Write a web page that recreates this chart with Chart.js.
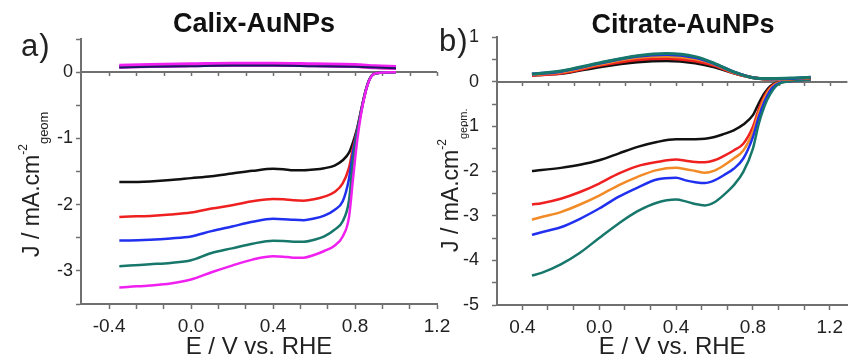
<!DOCTYPE html>
<html><head><meta charset="utf-8">
<script src="https://cdn.jsdelivr.net/npm/chart.js@4.4.1/dist/chart.umd.min.js"></script>
<style>
html,body{margin:0;padding:0;background:#fff;width:849px;height:360px;overflow:hidden;font-family:"Liberation Sans",Arial,sans-serif;}
#wrap{position:relative;width:849px;height:360px;}
canvas{position:absolute;top:0;}
.t{position:absolute;white-space:nowrap;color:#111;line-height:1;}
.yt{transform-origin:left top;transform:rotate(-90deg);font-size:23px;color:#222;}
.yt span{line-height:0;}
</style></head><body>
<div id="wrap">
<canvas id="ca" width="470" height="360" style="left:0;width:470px;height:360px"></canvas>
<canvas id="cb" width="419" height="360" style="left:430px;width:419px;height:360px"></canvas>
<div class="t" style="left:254px;top:10px;transform:translateX(-50%);font-weight:bold;font-size:27px;">Calix-AuNPs</div>
<div class="t" style="left:683px;top:11px;transform:translateX(-50%);font-weight:bold;font-size:27px;">Citrate-AuNPs</div>
<div class="t" style="left:21px;top:30px;font-size:31px;letter-spacing:1px;color:#222;">a)</div>
<div class="t" style="left:439px;top:25px;font-size:31px;letter-spacing:1px;color:#222;">b)</div>
<div class="t yt" style="left:20px;top:257px;">J / mA.cm<span style="font-size:12px;vertical-align:12px;">-2</span><span style="font-size:13px;vertical-align:-9px;">geom</span></div>
<div class="t yt" style="left:439px;top:252px;">J / mA.cm<span style="font-size:12px;vertical-align:12px;">-2</span><span style="font-size:11px;vertical-align:-9px;">geom.</span></div>
</div>
<script>
// ---------- Data ----------
// Panel a) Calix-AuNPs : disk currents
const potentialA = [-0.35,-0.3,-0.2,-0.1,0.0,0.1,0.2,0.3,0.4,0.45,0.5,0.55,0.6,0.65,0.7,0.74,0.77,0.79,0.81,0.83,0.85,0.87,0.89,0.92,1.0];
const diskA_black   = [-1.66,-1.66,-1.65,-1.63,-1.60,-1.57,-1.53,-1.49,-1.46,-1.465,-1.48,-1.48,-1.47,-1.45,-1.41,-1.33,-1.22,-1.06,-0.85,-0.57,-0.30,-0.11,-0.03,-0.01,0.0];
const diskA_red     = [-2.185,-2.18,-2.17,-2.15,-2.12,-2.06,-2.01,-1.95,-1.915,-1.92,-1.935,-1.94,-1.92,-1.88,-1.81,-1.68,-1.45,-1.15,-0.88,-0.58,-0.30,-0.11,-0.03,-0.01,0.0];
const diskA_blue    = [-2.54,-2.54,-2.53,-2.51,-2.48,-2.40,-2.33,-2.26,-2.215,-2.22,-2.23,-2.235,-2.21,-2.165,-2.08,-1.95,-1.62,-1.22,-0.90,-0.59,-0.31,-0.11,-0.03,-0.01,0.0];
const diskA_teal    = [-2.93,-2.92,-2.90,-2.88,-2.84,-2.73,-2.66,-2.59,-2.545,-2.55,-2.56,-2.56,-2.53,-2.48,-2.38,-2.25,-1.95,-1.35,-0.93,-0.60,-0.31,-0.11,-0.03,-0.01,0.0];
const diskA_magenta = [-3.25,-3.24,-3.22,-3.19,-3.13,-3.02,-2.92,-2.83,-2.78,-2.785,-2.80,-2.80,-2.76,-2.70,-2.62,-2.48,-2.20,-1.62,-1.05,-0.62,-0.32,-0.12,-0.03,-0.01,0.0];
// Panel a) ring currents
const potentialRingA = [-0.35,-0.2,0.0,0.2,0.4,0.6,0.8,0.9,1.0];
const ringA_black   = [0.07,0.08,0.09,0.10,0.10,0.09,0.08,0.07,0.06];
const ringA_red     = [0.08,0.09,0.10,0.11,0.11,0.10,0.09,0.07,0.06];
const ringA_blue    = [0.08,0.09,0.10,0.11,0.11,0.10,0.09,0.08,0.07];
const ringA_teal    = [0.09,0.10,0.11,0.12,0.12,0.11,0.10,0.08,0.07];
const ringA_magenta = [0.09,0.10,0.11,0.12,0.12,0.11,0.10,0.08,0.07];

// Panel b) Citrate-AuNPs : disk currents
const potentialB = [-0.35,-0.3,-0.2,-0.1,0.0,0.1,0.2,0.3,0.4,0.45,0.5,0.55,0.6,0.65,0.7,0.75,0.8,0.83,0.86,0.89,0.92,0.95,1.0,1.05,1.1];
const diskB_black  = [-2.0,-1.98,-1.93,-1.86,-1.76,-1.61,-1.46,-1.35,-1.29,-1.29,-1.29,-1.28,-1.24,-1.17,-1.09,-0.96,-0.75,-0.49,-0.26,-0.10,-0.03,0.0,0.03,0.05,0.06];
const diskB_red    = [-2.75,-2.72,-2.62,-2.47,-2.28,-2.06,-1.89,-1.80,-1.745,-1.77,-1.80,-1.805,-1.76,-1.66,-1.54,-1.39,-1.01,-0.62,-0.32,-0.13,-0.04,-0.01,0.01,0.03,0.05];
const diskB_orange = [-3.09,-3.03,-2.92,-2.75,-2.55,-2.32,-2.13,-1.98,-1.93,-1.96,-2.0,-2.04,-1.99,-1.87,-1.72,-1.54,-1.12,-0.70,-0.37,-0.16,-0.05,-0.01,0.01,0.03,0.05];
const diskB_blue   = [-3.43,-3.37,-3.26,-3.07,-2.84,-2.58,-2.37,-2.19,-2.15,-2.21,-2.25,-2.27,-2.21,-2.09,-1.95,-1.72,-1.24,-0.80,-0.45,-0.20,-0.07,-0.01,0.01,0.03,0.05];
const diskB_teal   = [-4.34,-4.28,-4.09,-3.83,-3.50,-3.18,-2.90,-2.71,-2.64,-2.68,-2.74,-2.77,-2.70,-2.53,-2.32,-2.02,-1.50,-0.95,-0.55,-0.28,-0.10,-0.02,0.01,0.03,0.05];
// Panel b) ring currents
const potentialRingB = [-0.35,-0.2,0.0,0.2,0.35,0.5,0.6,0.7,0.8,0.9,1.0,1.1];
const ringB_black  = [0.15,0.18,0.33,0.44,0.47,0.42,0.33,0.19,0.09,0.05,0.06,0.09];
const ringB_red    = [0.14,0.19,0.36,0.49,0.52,0.46,0.36,0.20,0.09,0.05,0.06,0.09];
const ringB_orange = [0.16,0.21,0.39,0.54,0.57,0.51,0.39,0.21,0.09,0.05,0.06,0.09];
const ringB_blue   = [0.17,0.23,0.41,0.57,0.61,0.54,0.40,0.22,0.09,0.06,0.07,0.10];
const ringB_teal   = [0.17,0.24,0.42,0.58,0.63,0.56,0.41,0.22,0.09,0.07,0.08,0.10];

// Tick labels
const xMajorTicks   = [-0.4, 0.0, 0.4, 0.8, 1.2];
const xTickLabelsA  = ['-0.4','0.0','0.4','0.8','1.2'];
const xTickLabelsB  = ['0.4','0.0','0.4','0.8','1.2'];
const yMajorTicksA  = [0, -1, -2, -3];
const yTickLabelsA  = ['0','-1','-2','-3'];
const yMajorTicksB  = [1, 0, -1, -2, -3, -4, -5];
const yTickLabelsB  = ['1','0','-1','-2','-3','-4','-5'];

// ---------- Styling ----------
const FONT = '"Liberation Sans", Arial, sans-serif';
const AXIS = '#707070';
const TXT = '#222';
const C = {black:'#111111', red:'#ee2020', blue:'#2030ee', teal:'#17776b', magenta:'#f020f0', orange:'#f28a26'};

const pts = (xs, ys) => xs.map((x, i) => ({x, y: ys[i]}));
function ds(xs, ys, color, width, order) {
  return {data: pts(xs, ys), borderColor: color, borderWidth: width, pointRadius: 0,
          fill: false, cubicInterpolationMode: 'monotone', order};
}
const near = (a, b) => Math.abs(a - b) < 1e-6;
function labelFor(majors, labels) {
  return v => { const i = majors.findIndex(m => near(m, v)); return i >= 0 ? labels[i] : ''; };
}
// minor ticks: thirds between x majors, halves between y majors
function xTickValues() { const t = []; for (let i = 0; i <= 12; i++) t.push(-0.4 + i * 0.4 / 3); return t; }
function yTickValues(lo, hi) { const t = []; for (let v = lo; v <= hi + 1e-9; v += 0.5) t.push(v); return t; }

const zeroLine = {
  id: 'zeroLine',
  beforeDatasetsDraw(chart) {
    const {ctx, chartArea, scales: {x, y}} = chart;
    const y0 = Math.round(y.getPixelForValue(0));
    ctx.save();
    ctx.strokeStyle = AXIS; ctx.lineWidth = 2;
    ctx.beginPath(); ctx.moveTo(chartArea.left, y0); ctx.lineTo(chartArea.right, y0); ctx.stroke();
    ctx.lineWidth = 1.5; ctx.beginPath();
    x.ticks.forEach(t => { const px = Math.round(x.getPixelForValue(t.value)) + 0.5; ctx.moveTo(px, y0); ctx.lineTo(px, y0 + 4); });
    ctx.stroke(); ctx.restore();
  }
};

function makeOptions(p) {
  return {
    responsive: false, animation: false, devicePixelRatio: 1,
    layout: {padding: {top: p.top, right: p.right, left: 0, bottom: 0}},
    plugins: {legend: {display: false}, tooltip: {enabled: false}, title: {display: false}},
    scales: {
      x: {
        type: 'linear', min: p.xmin, max: p.xmax,
        afterBuildTicks: s => { s.ticks = xTickValues().filter(v => v <= p.xmax + 1e-9).map(v => ({value: v})); },
        afterFit: s => { s.height = p.xh; },
        ticks: {autoSkip: false, maxRotation: 0, padding: p.xpad, color: TXT,
                font: {family: FONT, size: 19}, callback: labelFor(xMajorTicks, p.xlabels)},
        grid: {drawOnChartArea: false, drawTicks: true, tickLength: 5, tickColor: AXIS, tickWidth: 1.5},
        border: {display: true, color: AXIS, width: 2},
        title: {display: true, text: 'E / V vs. RHE', color: TXT, font: {family: FONT, size: 24},
                padding: {top: 0, bottom: -2}}
      },
      y: {
        type: 'linear', min: p.ymin, max: p.ymax,
        afterBuildTicks: s => { s.ticks = yTickValues(p.ymin, p.ymax).map(v => ({value: v})); },
        afterFit: s => { s.width = p.yw; },
        ticks: {autoSkip: false, padding: p.ypad, color: TXT, font: {family: FONT, size: 18},
                callback: labelFor(p.ymajors, p.ylabels)},
        grid: {drawOnChartArea: false, drawTicks: true, tickLength: 5, tickColor: AXIS, tickWidth: 1.5},
        border: {display: true, color: AXIS, width: 2}
      }
    }
  };
}

new Chart(document.getElementById('ca'), {
  type: 'line',
  data: {datasets: [
    ds(potentialRingA, ringA_black, '#1a1a60', 2, 0),
    ds(potentialRingA, ringA_magenta, C.magenta, 5, 1),
    ds(potentialRingA, ringA_teal, C.teal, 3, 2),
    ds(potentialRingA, ringA_blue, C.blue, 3, 3),
    ds(potentialRingA, ringA_red, C.red, 3, 4),
    ds(potentialA, diskA_magenta, C.magenta, 2.5, 5),
    ds(potentialA, diskA_teal, C.teal, 2.5, 6),
    ds(potentialA, diskA_blue, C.blue, 2.5, 7),
    ds(potentialA, diskA_red, C.red, 2.5, 8),
    ds(potentialA, diskA_black, C.black, 2.5, 9)
  ]},
  options: makeOptions({top: 39, right: 33, xmin: -0.537, xmax: 1.2, xh: 56, xpad: 6,
    ymin: -3.5, ymax: 0.5, yw: 81, ypad: 3, ymajors: yMajorTicksA, ylabels: yTickLabelsA, xlabels: xTickLabelsA}),
  plugins: [zeroLine]
});

new Chart(document.getElementById('cb'), {
  type: 'line',
  data: {datasets: [
    ds(potentialRingB, ringB_teal, C.teal, 3, 0),
    ds(potentialRingB, ringB_blue, C.blue, 3, 1),
    ds(potentialRingB, ringB_orange, C.orange, 3, 2),
    ds(potentialRingB, ringB_red, C.red, 3, 3),
    ds(potentialRingB, ringB_black, C.black, 3, 4),
    ds(potentialB, diskB_teal, C.teal, 2.5, 5),
    ds(potentialB, diskB_blue, C.blue, 2.5, 6),
    ds(potentialB, diskB_orange, C.orange, 2.5, 7),
    ds(potentialB, diskB_red, C.red, 2.5, 8),
    ds(potentialB, diskB_black, C.black, 2.5, 9)
  ]},
  options: makeOptions({top: 37, right: 1, xmin: -0.532, xmax: 1.292, xh: 55, xpad: 6,
    ymin: -5, ymax: 1, yw: 67, ypad: 13, ymajors: yMajorTicksB, ylabels: yTickLabelsB, xlabels: xTickLabelsB}),
  plugins: [zeroLine]
});
</script>
</body></html>
